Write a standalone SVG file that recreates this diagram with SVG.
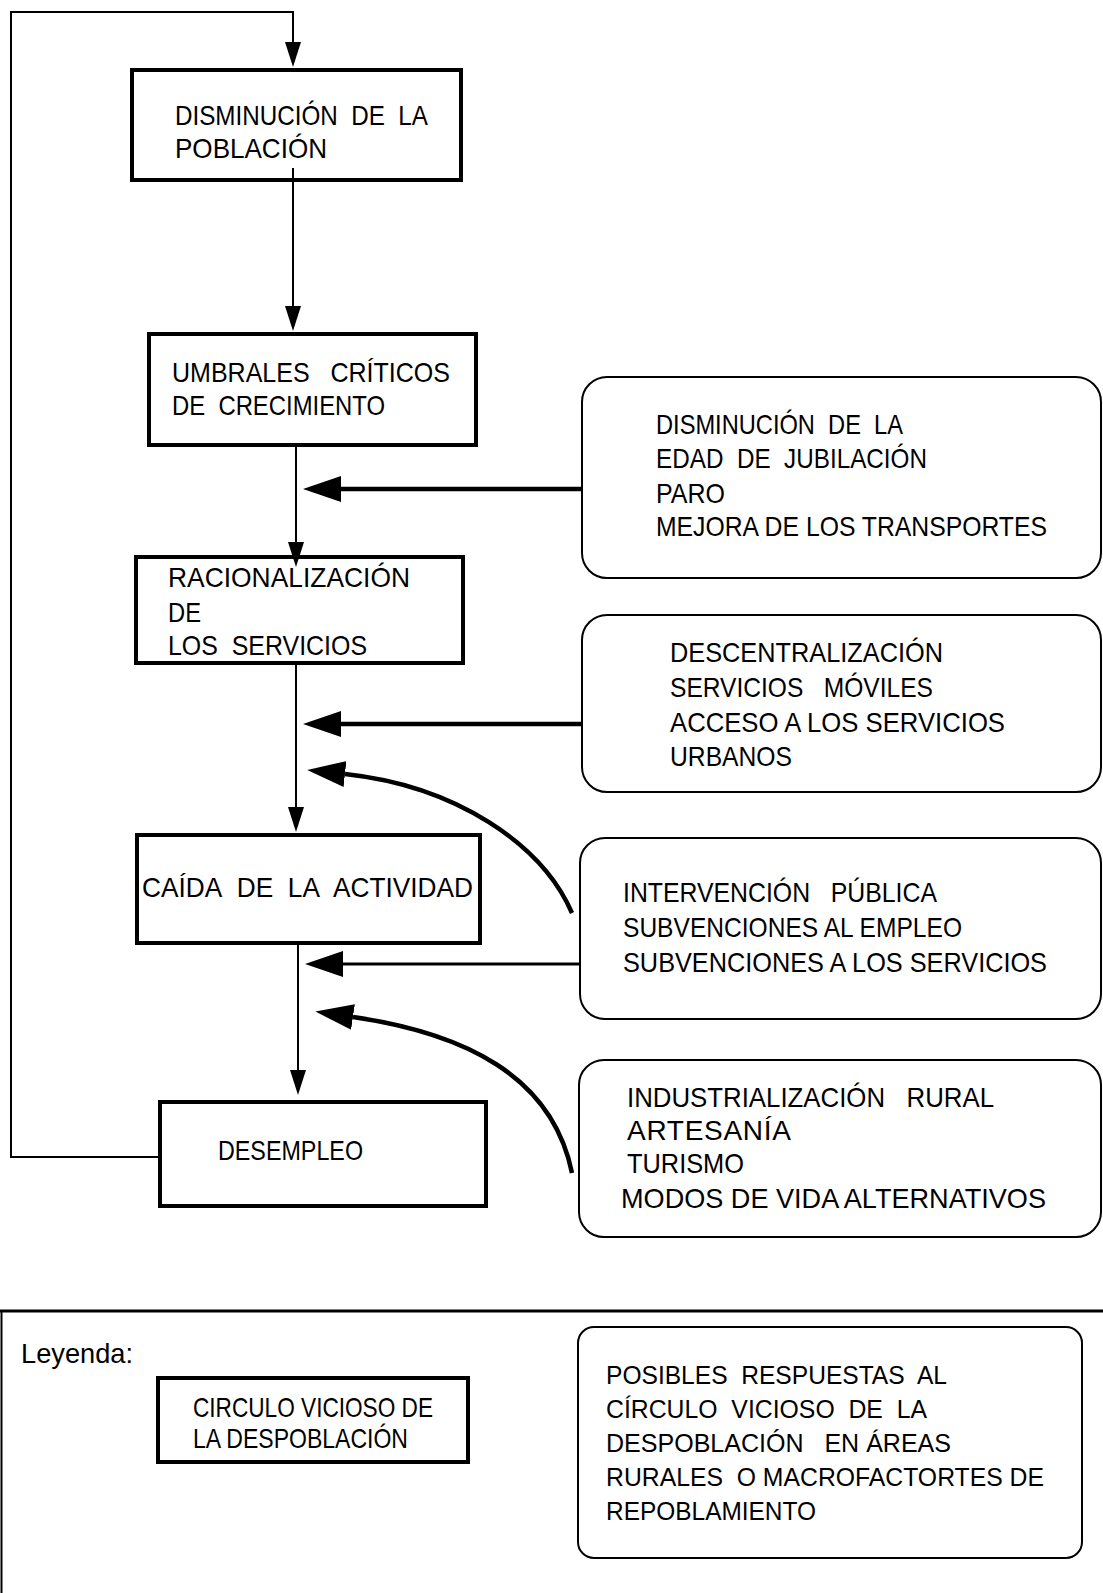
<svg xmlns="http://www.w3.org/2000/svg" width="1103" height="1593" viewBox="0 0 1103 1593">
<style>
.t{font-family:"Liberation Sans",Arial,sans-serif;font-size:28px;fill:#000;white-space:pre}
.ts{font-family:"Liberation Sans",Arial,sans-serif;font-size:26px;fill:#000;white-space:pre}
.box{fill:none;stroke:#000;stroke-width:4}
.rbox{fill:none;stroke:#000;stroke-width:2}
.ln{fill:none;stroke:#000;stroke-width:2}
.big{fill:none;stroke:#000;stroke-width:4.5}
</style>
<defs>
<marker id="ad" viewBox="0 0 25 16" refX="0" refY="8" markerWidth="25" markerHeight="16" markerUnits="userSpaceOnUse" orient="auto"><path d="M0,0 L25,8 L0,16 z" fill="#000"/></marker>
<marker id="ab" viewBox="0 0 38 26" refX="0" refY="13" markerWidth="38" markerHeight="26" markerUnits="userSpaceOnUse" orient="auto"><path d="M0,0 L38,13 L0,26 z" fill="#000"/></marker>
</defs>
<rect x="0" y="0" width="1103" height="1593" fill="#fff"/>
<g id="n-poblacion">
<rect class="box" x="132" y="70" width="329" height="110"/>
<text class="t" x="175" y="125" textLength="253" lengthAdjust="spacingAndGlyphs">DISMINUCIÓN&#160; DE&#160; LA</text>
<text class="t" x="175" y="158" textLength="152" lengthAdjust="spacingAndGlyphs">POBLACIÓN</text>
</g>
<g id="n-umbrales">
<rect class="box" x="149" y="334" width="327" height="111"/>
<text class="t" x="172" y="382" textLength="278" lengthAdjust="spacingAndGlyphs">UMBRALES&#160;&#160; CRÍTICOS</text>
<text class="t" x="172" y="415" textLength="213" lengthAdjust="spacingAndGlyphs">DE&#160; CRECIMIENTO</text>
</g>
<g id="n-racionalizacion">
<rect class="box" x="136" y="557" width="327" height="106"/>
<text class="t" x="168" y="587" textLength="242" lengthAdjust="spacingAndGlyphs">RACIONALIZACIÓN</text>
<text class="t" x="168" y="622" textLength="33" lengthAdjust="spacingAndGlyphs">DE</text>
<text class="t" x="168" y="655" textLength="199" lengthAdjust="spacingAndGlyphs">LOS&#160; SERVICIOS</text>
</g>
<g id="n-caida">
<rect class="box" x="137" y="835" width="343" height="108"/>
<text class="t" x="142" y="897" textLength="331" lengthAdjust="spacingAndGlyphs">CAÍDA&#160; DE&#160; LA&#160; ACTIVIDAD</text>
</g>
<g id="n-desempleo">
<rect class="box" x="160" y="1102" width="326" height="104"/>
<text class="t" x="218" y="1160" textLength="145" lengthAdjust="spacingAndGlyphs">DESEMPLEO</text>
</g>
<g id="r-jubilacion">
<rect class="rbox" x="582" y="377" width="519" height="201" rx="25"/>
<text class="t" x="656" y="434" textLength="247" lengthAdjust="spacingAndGlyphs">DISMINUCIÓN&#160; DE&#160; LA</text>
<text class="t" x="656" y="468" textLength="271" lengthAdjust="spacingAndGlyphs">EDAD&#160; DE&#160; JUBILACIÓN</text>
<text class="t" x="656" y="503" textLength="69" lengthAdjust="spacingAndGlyphs">PARO</text>
<text class="t" x="656" y="536" textLength="391" lengthAdjust="spacingAndGlyphs">MEJORA DE LOS TRANSPORTES</text>
</g>
<g id="r-descentralizacion">
<rect class="rbox" x="582" y="615" width="519" height="177" rx="25"/>
<text class="t" x="670" y="662" textLength="273" lengthAdjust="spacingAndGlyphs">DESCENTRALIZACIÓN</text>
<text class="t" x="670" y="697" textLength="263" lengthAdjust="spacingAndGlyphs">SERVICIOS&#160;&#160; MÓVILES</text>
<text class="t" x="670" y="732" textLength="335" lengthAdjust="spacingAndGlyphs">ACCESO A LOS SERVICIOS</text>
<text class="t" x="670" y="766" textLength="122" lengthAdjust="spacingAndGlyphs">URBANOS</text>
</g>
<g id="r-intervencion">
<rect class="rbox" x="580" y="838" width="521" height="181" rx="25"/>
<text class="t" x="623" y="902" textLength="314" lengthAdjust="spacingAndGlyphs">INTERVENCIÓN&#160;&#160; PÚBLICA</text>
<text class="t" x="623" y="937" textLength="339" lengthAdjust="spacingAndGlyphs">SUBVENCIONES AL EMPLEO</text>
<text class="t" x="623" y="972" textLength="424" lengthAdjust="spacingAndGlyphs">SUBVENCIONES A LOS SERVICIOS</text>
</g>
<g id="r-industrializacion">
<rect class="rbox" x="579" y="1060" width="522" height="177" rx="25"/>
<text class="t" x="627" y="1107" textLength="367" lengthAdjust="spacingAndGlyphs">INDUSTRIALIZACIÓN&#160;&#160; RURAL</text>
<text class="t" x="627" y="1140" textLength="164" lengthAdjust="spacing">ARTESANÍA</text>
<text class="t" x="627" y="1173" textLength="117" lengthAdjust="spacingAndGlyphs">TURISMO</text>
<text class="t" x="621" y="1208" textLength="425" lengthAdjust="spacingAndGlyphs">MODOS DE VIDA ALTERNATIVOS</text>
</g>
<g id="connectors">
<path class="ln" d="M158,1157 H11 V12 H293 V42" marker-end="url(#ad)"/>
<path class="ln" d="M293,168 V306" marker-end="url(#ad)"/>
<path class="ln" d="M296,447 V542" marker-end="url(#ad)"/>
<path class="ln" d="M296,665 V807" marker-end="url(#ad)"/>
<path class="ln" d="M298,945 V1070" marker-end="url(#ad)"/>
<path class="big" d="M582,489 H341" marker-end="url(#ab)"/>
<path class="big" d="M582,724 H341" marker-end="url(#ab)"/>
<path class="big" d="M572,913 C542,844 456,786 345,774" marker-end="url(#ab)"/>
<path class="big" style="stroke-width:3" d="M581,964 H343" marker-end="url(#ab)"/>
<path class="big" d="M572,1173 C552,1075 463,1033 353,1017" marker-end="url(#ab)"/>
</g>
<g id="legend">
<path d="M0,1311 H1103" stroke="#000" stroke-width="3" fill="none"/>
<path d="M1.5,1311 V1593" stroke="#000" stroke-width="2" fill="none"/>
<text class="t" x="21" y="1363" textLength="112" lengthAdjust="spacingAndGlyphs">Leyenda:</text>
<g id="legend-circulo">
<rect class="box" x="158" y="1378" width="310" height="84"/>
<text class="t" x="193" y="1417" textLength="240" lengthAdjust="spacingAndGlyphs">CIRCULO VICIOSO DE</text>
<text class="t" x="193" y="1448" textLength="215" lengthAdjust="spacingAndGlyphs">LA DESPOBLACIÓN</text>
</g>
<g id="legend-respuestas">
<rect class="rbox" x="578" y="1327" width="504" height="231" rx="16"/>
<text class="ts" x="606" y="1384" textLength="341" lengthAdjust="spacingAndGlyphs">POSIBLES&#160; RESPUESTAS&#160; AL</text>
<text class="ts" x="606" y="1418" textLength="321" lengthAdjust="spacingAndGlyphs">CÍRCULO&#160; VICIOSO&#160; DE&#160; LA</text>
<text class="ts" x="606" y="1452" textLength="345" lengthAdjust="spacingAndGlyphs">DESPOBLACIÓN&#160;&#160; EN ÁREAS</text>
<text class="ts" x="606" y="1486" textLength="438" lengthAdjust="spacingAndGlyphs">RURALES&#160; O MACROFACTORTES DE</text>
<text class="ts" x="606" y="1520" textLength="210" lengthAdjust="spacingAndGlyphs">REPOBLAMIENTO</text>
</g>
</g>
</svg>
